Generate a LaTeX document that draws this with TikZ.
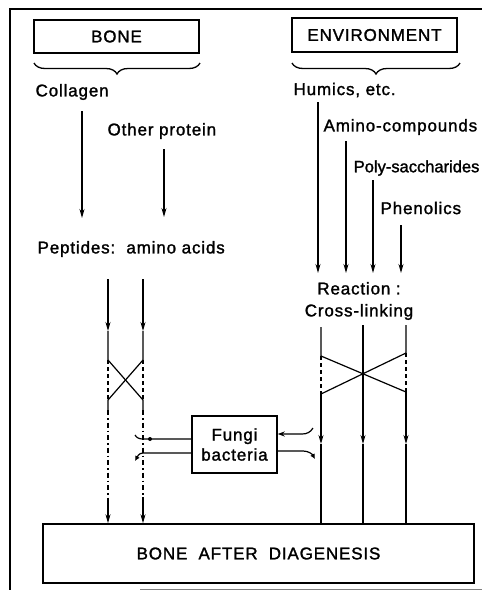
\documentclass[tikz,border=0pt]{standalone}
\usepackage{fontspec}
\setmainfont{Liberation Sans}[FakeBold=1.5, LetterSpace=5]
\newfontfamily\tightfont{Liberation Sans}[FakeBold=1.5, LetterSpace=0]
\usetikzlibrary{arrows.meta,decorations.pathreplacing,calc}
\begin{document}
\begin{tikzpicture}[x=1pt,y=-1pt, line width=1.2pt,
  lbl/.style={font=\fontsize{17}{20}\selectfont, inner sep=0pt},
  boxed/.style={draw, line width=1.5pt, inner sep=0pt, font=\fontsize{17}{20}\selectfont},
  arr/.style={-{Stealth[length=9pt,width=5pt]}},
  dashv/.style={dash pattern=on 4pt off 3pt},
  dashdot/.style={dash pattern=on 5pt off 3pt on 1.5pt off 3pt},
  br/.style={decorate, decoration={brace, mirror, amplitude=11pt}, line width=1.3pt}]
\useasboundingbox (0,0) rectangle (482,590);
% frame
\draw[line width=1.3pt] (10,590) -- (10,9) -- (482,9);
\draw[line width=0.8pt, gray] (140,589) -- (482,589);

% top boxes
\node[boxed, minimum width=165pt, minimum height=33pt] (bone) at (116.5,36.5) {BONE};
\node[boxed, minimum width=165pt, minimum height=34pt] (env) at (374.5,35) {ENVIRONMENT};
\draw[br] (34,63) -- (200,63);
\draw[br] (292,63) -- (460,63);

% labels
\node[lbl, anchor=west] (collagen) at (35,92) {Collagen};
\node[lbl, anchor=west] (other) at (107,131) {Other protein};
\node[lbl, anchor=west] (peptides) at (37,249) {Peptides:\ \ amino acids};
\node[lbl, anchor=west] (humics) at (293,90) {Humics,\ etc.};
\node[lbl, anchor=west] (amino) at (323,127) {Amino-compounds};
\node[lbl, anchor=east, font=\tightfont\fontsize{16.5}{20}\selectfont] (poly) at (480,168) {Poly-saccharides};
\node[lbl, anchor=west] (phen) at (380,208) {Phenolics};
\node[lbl, align=center] (react) at (359,301) {Reaction :\\[2pt]Cross-linking};

% bottom boxes
\node[boxed, minimum width=85pt, minimum height=57pt, align=center] (fungi) at (234.5,444.5) {Fungi\\bacteria};
\node[boxed, minimum width=431pt, minimum height=59pt] (final) at (258.5,553.5) {BONE\ \ AFTER\ \ DIAGENESIS};

% left arrows
\coordinate (c1) at (82,111); \coordinate (c2) at (82,218);
\draw[arr] (c1) -- (c2);
\coordinate (o1) at (164,149); \coordinate (o2) at (164,217);
\draw[arr] (o1) -- (o2);

% right arrows
\coordinate (h1) at (318,102); \coordinate (h2) at (318,273);
\coordinate (a1) at (346,141); \coordinate (a2) at (346,273);
\coordinate (p1) at (373,180); \coordinate (p2) at (373,273);
\coordinate (f1) at (401,225); \coordinate (f2) at (401,273);
\draw[arr] (h1) -- (h2);
\draw[arr] (a1) -- (a2);
\draw[arr] (p1) -- (p2);
\draw[arr] (f1) -- (f2);

% left column
\coordinate (L1a) at (108,279); \coordinate (L1b) at (108,331); \coordinate (L1c) at (108,360);
\coordinate (L1d) at (108,400); \coordinate (L1e) at (108,410); \coordinate (L1f) at (108,500);
\coordinate (L2a) at (143,279); \coordinate (L2b) at (143,331); \coordinate (L2c) at (143,360);
\coordinate (L2d) at (143,400); \coordinate (L2e) at (143,410); \coordinate (L2f) at (143,497);
\draw[arr] (L1a) -- (L1b);
\draw[arr] (L2a) -- (L2b);
\draw (L1b) -- (L1c) -- (L2d) -- (L2e);
\draw (L2b) -- (L2c) -- (L1d) -- (L1e);
\draw[dashv] (L1c) -- (L1d);
\draw[dashv] (L2c) -- (L2d);
\draw[dashdot] (L1e) -- (L1f);
\draw[dashdot] (L2e) -- (L2f);
\draw[arr] (L1f) -- (L1f |- final.north);
\draw[arr] (L2f) -- (L2f |- final.north);

% right column
\coordinate (R1a) at (321,327); \coordinate (R1b) at (321,356); \coordinate (R1c) at (321,394); \coordinate (R1d) at (321,444);
\coordinate (R2a) at (363,325); \coordinate (R2d) at (363,444);
\coordinate (R3a) at (406,325); \coordinate (R3b) at (406,353); \coordinate (R3c) at (406,392); \coordinate (R3d) at (406,444);
\draw (R1a) -- (R1b) -- (R3c);
\draw (R3a) -- (R3b) -- (R1c);
\draw[dashv] (R1b) -- (R1c);
\draw[dashv] (R3b) -- (R3c);
\draw[arr] (R1c) -- (R1d);
\draw[arr] (R2a) -- (R2d);
\draw[arr] (R3c) -- (R3d);
\draw (R1d) -- (R1d |- final.north);
\draw (R2d) -- (R2d |- final.north);
\draw (R3d) -- (R3d |- final.north);

% fungi connectors
\coordinate (fl1) at (135,435); \coordinate (fl2) at (135,461);
\coordinate (fr1) at (313,428); \coordinate (fr2) at (315,459);
\draw (fungi.west |- 0,439) -- (143,439) to[out=180,in=-60] (fl1);
\fill (150,439) circle (2pt);
\draw[-{Latex[length=5pt,width=5pt]}] (fungi.west |- 0,453) -- (143,453) to[out=180,in=60] (fl2);
\draw[{Stealth[length=7pt,width=5pt]}-] (fungi.east |- 0,434) -- (302,434) to[out=0,in=-120] (fr1);
\draw[-{Latex[length=5pt,width=5pt]}] (fungi.east |- 0,451) -- (303,451) to[out=0,in=120] (fr2);
\end{tikzpicture}
\end{document}
